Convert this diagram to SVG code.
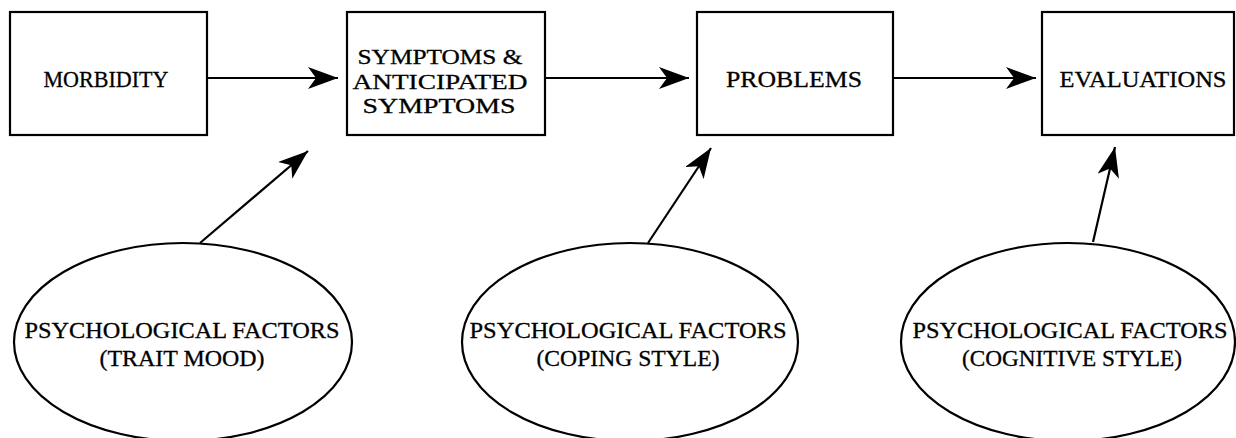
<svg xmlns="http://www.w3.org/2000/svg" width="1236" height="438" viewBox="0 0 1236 438">
<style>
.box{fill:#fff;stroke:#000;stroke-width:2.2}
.ell{fill:#fff;stroke:#000;stroke-width:2.2}
.lbl{font-family:"Liberation Serif","Times New Roman",serif;font-size:24px;fill:#000;stroke:#000;stroke-width:0.3;text-anchor:middle}
.sm{font-size:22px}
.edge{stroke:#000;stroke-width:2.2;fill:none;marker-end:url(#ah)}
</style>
<defs>
<marker id="ah" viewBox="0 0 30 22" markerWidth="30" markerHeight="22" refX="30" refY="11" orient="auto" markerUnits="userSpaceOnUse">
<path d="M0,0 L30,11 L0,22 L8,11 Z" fill="#000"/>
</marker>
</defs>
<rect width="1236" height="438" fill="#fff"/>
<g id="connectors">
<line class="edge" x1="207" y1="78" x2="338" y2="78"/>
<line class="edge" x1="545" y1="78" x2="689" y2="78"/>
<line class="edge" x1="893" y1="78" x2="1036" y2="78"/>
<line class="edge" x1="200" y1="243" x2="308" y2="151"/>
<line class="edge" x1="648" y1="243" x2="711" y2="148"/>
<line class="edge" x1="1093" y1="242" x2="1115" y2="147"/>
</g>
<g id="morbidity">
<rect class="box" x="10" y="12" width="197" height="123"/>
<text class="lbl" x="106" y="87" textLength="125" lengthAdjust="spacingAndGlyphs">MORBIDITY</text>
</g>
<g id="symptoms">
<rect class="box" x="347" y="12" width="198" height="123"/>
<text class="lbl sm" x="440" y="64" textLength="165" lengthAdjust="spacingAndGlyphs">SYMPTOMS &amp;</text>
<text class="lbl sm" x="440" y="88.5" textLength="175" lengthAdjust="spacingAndGlyphs">ANTICIPATED</text>
<text class="lbl sm" x="439" y="113" textLength="153" lengthAdjust="spacingAndGlyphs">SYMPTOMS</text>
</g>
<g id="problems">
<rect class="box" x="697" y="12" width="196" height="123"/>
<text class="lbl" x="794" y="87" textLength="136" lengthAdjust="spacingAndGlyphs">PROBLEMS</text>
</g>
<g id="evaluations">
<rect class="box" x="1042" y="12" width="192" height="123"/>
<text class="lbl" x="1143" y="87" textLength="167" lengthAdjust="spacingAndGlyphs">EVALUATIONS</text>
</g>
<g id="trait-mood">
<ellipse class="ell" cx="183" cy="342" rx="169" ry="99"/>
<text class="lbl" x="182" y="338" textLength="315" lengthAdjust="spacingAndGlyphs">PSYCHOLOGICAL FACTORS</text>
<text class="lbl" x="182" y="366" textLength="165" lengthAdjust="spacingAndGlyphs">(TRAIT MOOD)</text>
</g>
<g id="coping-style">
<ellipse class="ell" cx="630" cy="342" rx="168" ry="99"/>
<text class="lbl" x="628" y="338" textLength="317" lengthAdjust="spacingAndGlyphs">PSYCHOLOGICAL FACTORS</text>
<text class="lbl" x="628" y="366" textLength="183" lengthAdjust="spacingAndGlyphs">(COPING STYLE)</text>
</g>
<g id="cognitive-style">
<ellipse class="ell" cx="1068" cy="342" rx="167" ry="99"/>
<text class="lbl" x="1070" y="338" textLength="315" lengthAdjust="spacingAndGlyphs">PSYCHOLOGICAL FACTORS</text>
<text class="lbl" x="1072" y="366" textLength="220" lengthAdjust="spacingAndGlyphs">(COGNITIVE STYLE)</text>
</g>
</svg>
